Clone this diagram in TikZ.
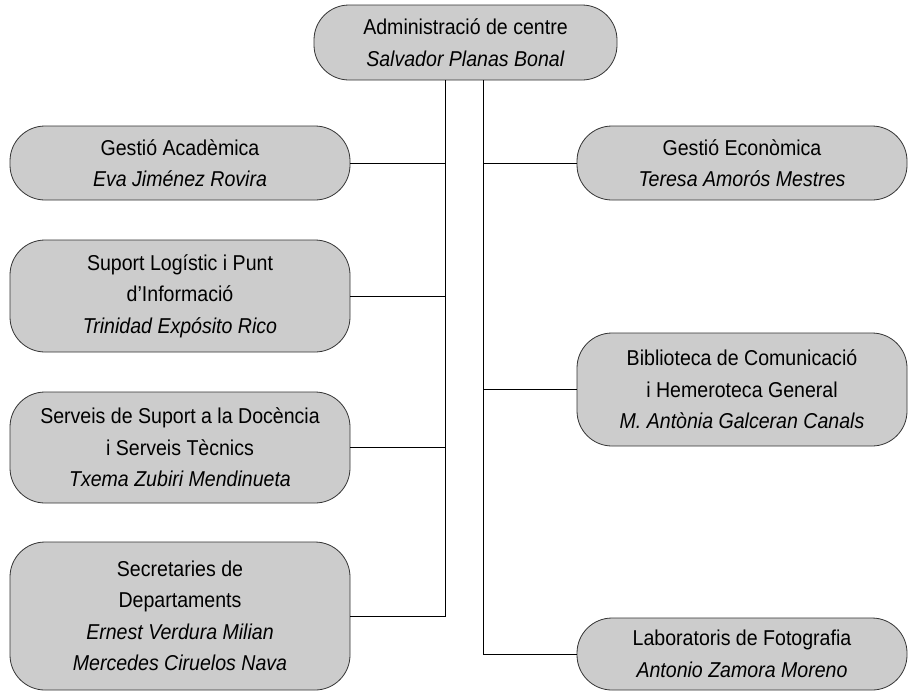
\documentclass[tikz,border=0pt]{standalone}
\usepackage{fontspec}
\setmainfont{Liberation Sans}[FakeStretch=0.91]
\begin{document}
\begin{tikzpicture}[x=0.5pt,y=-0.5pt,
	unit/.style={draw=black!80, fill=gray!40, rounded corners=17.5pt, align=center, inner sep=0pt, font=\fontsize{10.75}{15.75}\selectfont},
	link/.style={draw=black, line width=0.5pt}]
	\useasboundingbox (0,0) rectangle (908,691);
	\node [unit, minimum width=151.5pt, minimum height=37.5pt] (admin) at (465.5,42.5) {Administració de centre\\\textit{Salvador Planas Bonal}};
	\node [unit, minimum width=170pt, minimum height=37pt] (ga) at (180,163) {Gestió Acadèmica\\\textit{Eva Jiménez Rovira}};
	\node [unit, minimum width=170pt, minimum height=56pt] (slp) at (180,296) {Suport Logístic i Punt\\d’Informació\\\textit{Trinidad Expósito Rico}};
	\node [unit, minimum width=170pt, minimum height=55.5pt] (ssd) at (180,447.5) {Serveis de Suport a la Docència\\i Serveis Tècnics\\\textit{Txema Zubiri Mendinueta}};
	\node [unit, minimum width=170pt, minimum height=74pt] (sd) at (180,616) {Secretaries de\\Departaments\\\textit{Ernest Verdura Milian}\\\textit{Mercedes Ciruelos Nava}};
	\node [unit, minimum width=165pt, minimum height=37pt] (ge) at (742,163) {Gestió Econòmica\\\textit{Teresa Amorós Mestres}};
	\node [unit, minimum width=165pt, minimum height=56.5pt] (bhg) at (742,389.5) {Biblioteca de Comunicació\\i Hemeroteca General\\\textit{M. Antònia Galceran Canals}};
	\node [unit, minimum width=165pt, minimum height=36pt] (lf) at (742,654) {Laboratoris de Fotografia\\\textit{Antonio Zamora Moreno}};
	\coordinate (trunkL) at (admin.south -| 445,0);
	\coordinate (trunkR) at (admin.south -| 483,0);
	\draw [link] (trunkL) |- (sd.east);
	\foreach \n in {ga,slp,ssd}
		\draw [link] (\n.east) -- (\n.east -| trunkL);
	\draw [link] (trunkR) |- (lf.west);
	\foreach \n in {ge,bhg}
		\draw [link] (\n.west) -- (\n.west -| trunkR);
\end{tikzpicture}
\end{document}
